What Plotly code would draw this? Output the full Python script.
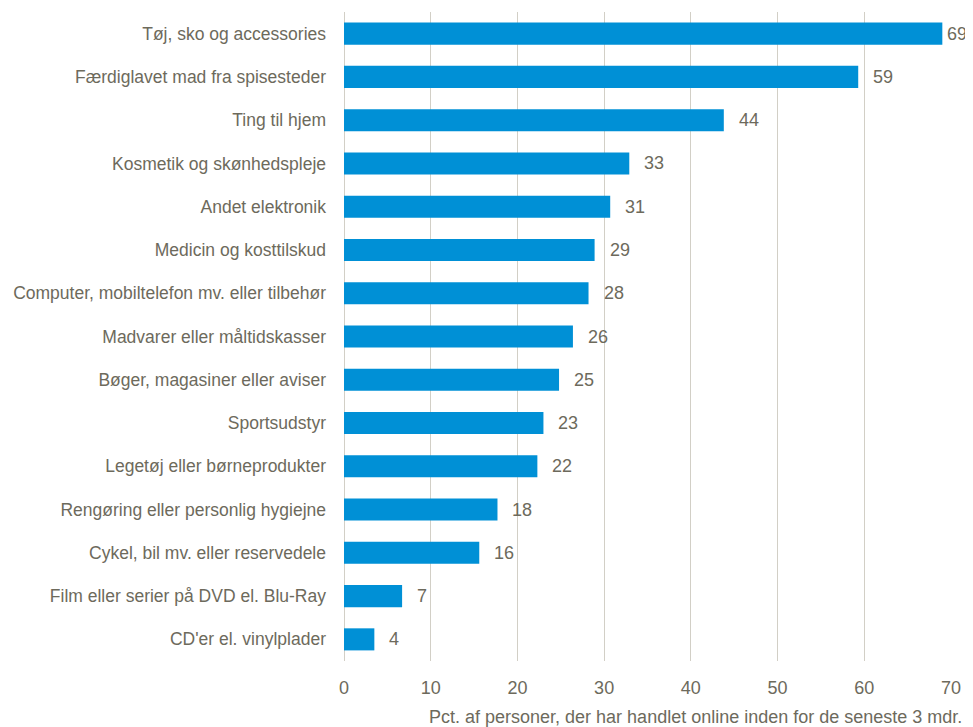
import plotly.graph_objects as go

categories = [
    "Tøj, sko og accessories",
    "Færdiglavet mad fra spisesteder",
    "Ting til hjem",
    "Kosmetik og skønhedspleje",
    "Andet elektronik",
    "Medicin og kosttilskud",
    "Computer, mobiltelefon mv. eller tilbehør",
    "Madvarer eller måltidskasser",
    "Bøger, magasiner eller aviser",
    "Sportsudstyr",
    "Legetøj eller børneprodukter",
    "Rengøring eller personlig hygiejne",
    "Cykel, bil mv. eller reservedele",
    "Film eller serier på DVD el. Blu-Ray",
    "CD'er el. vinylplader",
]
values = [69.0, 59.3, 43.8, 32.9, 30.7, 28.9, 28.2, 26.4, 24.8, 23.0, 22.3, 17.7, 15.6, 6.7, 3.5]
x_ticks = [0, 10, 20, 30, 40, 50, 60, 70]
x_title = "Pct. af personer, der har handlet online inden for de seneste 3 mdr."

FONT = "Liberation Sans Narrow, Arial Narrow, Liberation Sans, Arial, sans-serif"
TXT = "#6d6a5c"
GRID = "#d2cfc6"
BAR = "#0090d6"

fig = go.Figure(
    go.Bar(
        y=categories,
        x=values,
        orientation="h",
        marker=dict(color=BAR, line=dict(width=0)),
        hoverinfo="skip",
    )
)

for cat, v in zip(categories, values):
    fig.add_annotation(
        x=v, y=cat, xref="x", yref="y",
        text=f"{v:.0f}",
        showarrow=False,
        xanchor="left", yanchor="middle",
        xshift=3 if v > 65 else 13,
        font=dict(family=FONT, size=18, color=TXT),
    )

# x-axis title, right-aligned beneath the tick labels as in the reference
fig.add_annotation(
    x=1, y=0, xref="paper", yref="paper",
    text=x_title,
    showarrow=False,
    xanchor="right", yanchor="middle",
    xshift=13, yshift=-56,
    font=dict(family=FONT, size=18, color=TXT),
)

fig.update_layout(
    width=965,
    height=719,
    margin=dict(l=336, r=22, t=4, b=66),
    paper_bgcolor="white",
    plot_bgcolor="white",
    bargap=0.49,
    showlegend=False,
    font=dict(family=FONT, size=18, color=TXT),
)
fig.update_xaxes(
    range=[0, 70],
    tickvals=x_ticks,
    showgrid=True,
    gridcolor=GRID,
    gridwidth=1.3,
    zeroline=True,
    zerolinecolor=GRID,
    zerolinewidth=1.3,
    showline=False,
    ticks="",
    automargin=False,
    ticklabelstandoff=14,
    tickfont=dict(family=FONT, size=18, color=TXT),
)
fig.update_yaxes(
    autorange="reversed",
    showgrid=False,
    showline=False,
    ticks="",
    automargin=False,
    ticklabelstandoff=17,
    tickfont=dict(family=FONT, size=17.5, color=TXT),
)

fig.write_html("out.html")
